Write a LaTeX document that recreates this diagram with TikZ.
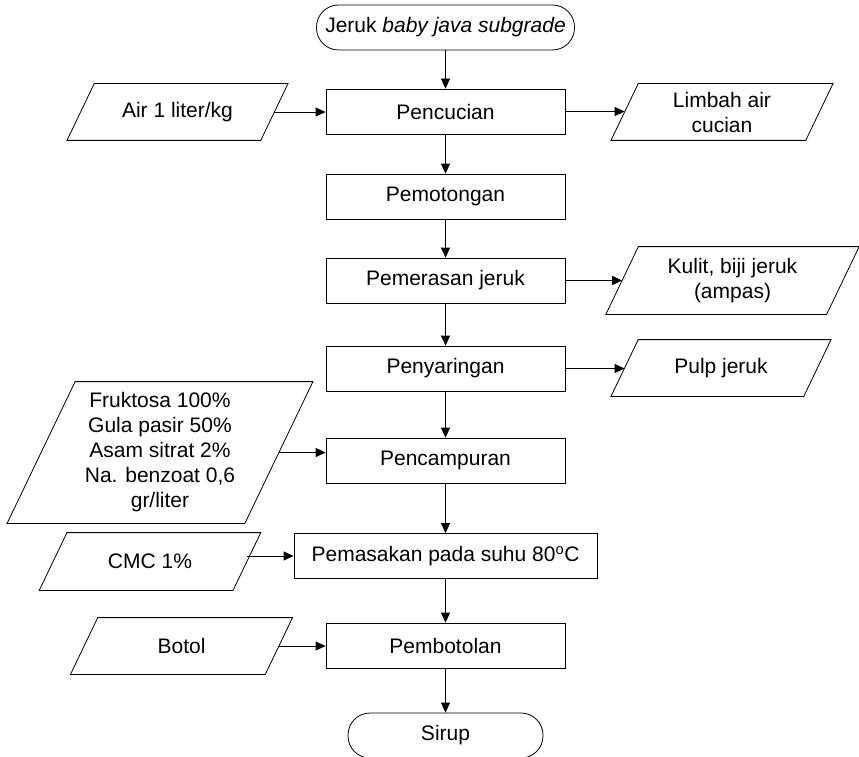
\documentclass[tikz,border=0pt]{standalone}
\usepackage{fontspec}
\setmainfont{Liberation Sans}
\usetikzlibrary{arrows.meta,calc}
\begin{document}
\begin{tikzpicture}[x=1pt,y=-1pt,
  font=\fontsize{21}{25}\selectfont,
  line width=0.8pt,
  proc/.style={draw, rectangle, minimum height=45pt, inner sep=0pt, align=center},
  term/.style={draw, rectangle, rounded corners=22pt, minimum height=45pt, inner sep=0pt},
  io/.style={rectangle, inner sep=0pt, align=center},
  conn/.style={-{Triangle[length=10pt,width=9pt]}}]
\useasboundingbox (0,0) rectangle (859,757);
% main column
\node[term, minimum width=258pt] (start) at (445.5,27.5) {Jeruk \textit{baby java subgrade}};
\node[proc, minimum width=239pt] (cuci) at (445.5,111.5) {Pencucian};
\node[proc, minimum width=239pt] (potong) at (445.5,196.5) {Pemotongan};
\node[proc, minimum width=239pt] (peras) at (445.5,280.5) {Pemerasan jeruk};
\node[proc, minimum width=239pt] (saring) at (445.5,368.5) {Penyaringan};
\node[proc, minimum width=239pt] (campur) at (445.5,460.5) {Pencampuran};
\node[proc, minimum width=303pt] (masak) at (445.5,556) {Pemasakan pada suhu 80\textsuperscript{o}C};
\node[proc, minimum width=239pt] (botolan) at (445.5,645.5) {Pembotolan};
\node[term, minimum width=195pt] (sirup) at (445.5,735.5) {Sirup};
% inputs / outputs
\node[io, minimum width=193pt, minimum height=56pt] (air) at (177.5,112) {Air 1 liter/kg};
\node[io, minimum width=194pt, minimum height=56pt] (limbah) at (722,112) {Limbah air\\cucian};
\node[io, minimum width=220pt, minimum height=67pt] (kulit) at (732.5,280.5) {Kulit, biji jeruk\\(ampas)};
\node[io, minimum width=192pt, minimum height=56pt] (pulp) at (721,368) {Pulp jeruk};
\node[io, minimum width=237pt, minimum height=141pt] (bahan) at (160,452.5) {Fruktosa 100\%\\Gula pasir 50\%\\Asam sitrat 2\%\\Na. benzoat 0,6\\gr/liter};
\node[io, minimum width=193pt, minimum height=57pt] (cmc) at (150,561.5) {CMC 1\%};
\node[io, minimum width=194pt, minimum height=56pt] (botol) at (181.5,646) {Botol};
% parallelogram outlines
\foreach \nm in {air,limbah,kulit,pulp,bahan,cmc,botol}{
  \draw let \p1=(\nm.north west), \p2=(\nm.south east), \n1={0.24*(\y1-\y2)} in
    ({\x1+\n1},{\y1}) -- ({\x2+\n1},{\y1}) -- ({\x2-\n1},{\y2}) -- ({\x1-\n1},{\y2}) -- cycle;
}
% vertical flow
\draw[conn] (start) -- (cuci);
\draw[conn] (cuci) -- (potong);
\draw[conn] (potong) -- (peras);
\draw[conn] (peras) -- (saring);
\draw[conn] (saring) -- (campur);
\draw[conn] (campur) -- (masak);
\draw[conn] (masak) -- (botolan);
\draw[conn] (botolan) -- (sirup);
% side flows
\draw[conn] (air.east) -- (air.east -| cuci.west);
\draw[conn] (cuci.east) -- (cuci.east -| limbah.west);
\draw[conn] (peras.east) -- (peras.east -| kulit.west);
\draw[conn] (saring.east) -- (saring.east -| pulp.west);
\draw[conn] (bahan.east) -- (bahan.east -| campur.west);
\draw[conn] (masak.west -| cmc.east) -- (masak.west);
\draw[conn] (botol.east) -- (botol.east -| botolan.west);
\end{tikzpicture}
\end{document}
